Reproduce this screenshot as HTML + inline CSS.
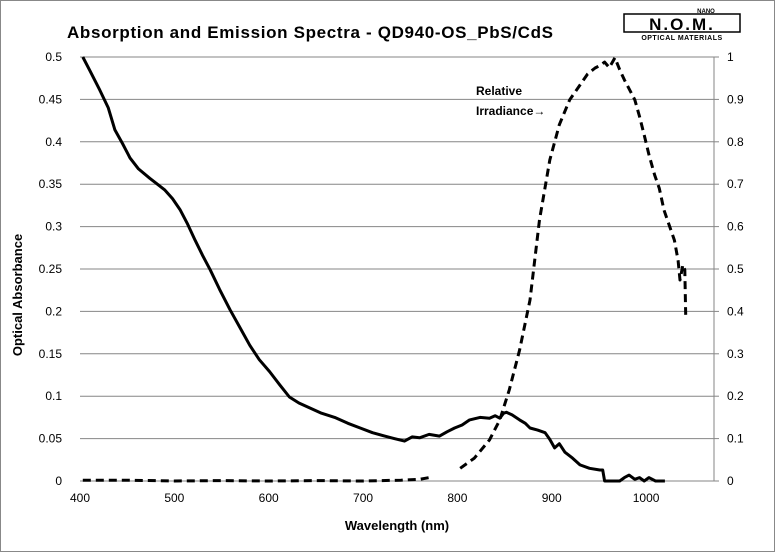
<!DOCTYPE html>
<html><head><meta charset="utf-8"><style>
body{margin:0;background:#fff;}
svg{display:block;font-family:"Liberation Sans",Arial,sans-serif;}
</style></head><body>
<svg width="775" height="552" viewBox="0 0 775 552">
<rect x="0.5" y="0.5" width="774" height="551" fill="#fff" stroke="#888"/>
<text x="67" y="38" font-size="17" font-weight="bold" textLength="486" lengthAdjust="spacing">Absorption and Emission Spectra - QD940-OS_PbS/CdS</text>
<g>
<text x="706" y="13" font-size="6" font-weight="bold" text-anchor="middle">NANO</text>
<rect x="624" y="14" width="116" height="18" fill="none" stroke="#000" stroke-width="1.5"/>
<text x="682" y="30" font-size="17" font-weight="bold" text-anchor="middle" letter-spacing="2">N.O.M.</text>
<text x="682" y="40" font-size="7" font-weight="bold" text-anchor="middle" letter-spacing="0.5">OPTICAL MATERIALS</text>
</g>
<g id="grid"></g>
<g id="axes"></g>
<g id="series"></g>
<text x="22" y="295" font-size="13" font-weight="bold" text-anchor="middle" transform="rotate(-90 22 295)">Optical Absorbance</text>
<text x="397" y="530" font-size="13" font-weight="bold" text-anchor="middle">Wavelength (nm)</text>
<text x="476" y="95" font-size="12" font-weight="bold">Relative</text>
<text x="476" y="115" font-size="12" font-weight="bold">Irradiance→</text>
</svg>
<script>
const xTicks=[400,500,600,700,800,900,1000];
const yLeftTicks=[0,0.05,0.1,0.15,0.2,0.25,0.3,0.35,0.4,0.45,0.5];
const yLeftLabels=["0","0.05","0.1","0.15","0.2","0.25","0.3","0.35","0.4","0.45","0.5"];
const yRightTicks=[0,0.1,0.2,0.3,0.4,0.5,0.6,0.7,0.8,0.9,1];
const yRightLabels=["0","0.1","0.2","0.3","0.4","0.5","0.6","0.7","0.8","0.9","1"];
const absWl=[403,410,421,430,437,445,453,462,474,482,490,498,506,514,522,530,538,548,559,570,580,590,601,612,622,632,644,656,670,684,697,710,723,733,744,752,760,770,781,789,797,805,813,824,834,840,845,849,852,858,866,872,877,885,893,898,903,908,914,922,930,940,951,954,956,962,972,977,982,988,993,998,1003,1010,1020];
const absVal=[0.5,0.485,0.461,0.44,0.414,0.398,0.381,0.368,0.357,0.35,0.343,0.333,0.32,0.303,0.284,0.266,0.249,0.226,0.202,0.18,0.16,0.143,0.129,0.113,0.099,0.092,0.086,0.08,0.075,0.068,0.0625,0.057,0.053,0.05,0.047,0.052,0.051,0.055,0.053,0.058,0.0625,0.066,0.072,0.075,0.074,0.077,0.074,0.08,0.081,0.078,0.072,0.068,0.0625,0.06,0.057,0.049,0.039,0.044,0.034,0.027,0.019,0.015,0.013,0.013,0,0,0,0.004,0.007,0.002,0.004,0,0.004,0,0];
const emWlA=[403,450,500,550,600,650,700,740,760,770];
const emValA=[0.002,0.002,0,0.001,0,0.001,0,0.002,0.004,0.008];
const emWlB=[803,818,834,845,855,866,877,887,898,908,919,930,938,946,951,956,961,967,972,977,982,988,993,998,1003,1009,1014,1019,1025,1030,1034,1036,1039,1041,1042];
const emValB=[0.03,0.054,0.097,0.144,0.215,0.309,0.427,0.616,0.757,0.84,0.899,0.934,0.96,0.974,0.98,0.988,0.975,0.998,0.97,0.946,0.925,0.899,0.86,0.816,0.77,0.722,0.69,0.639,0.6,0.568,0.52,0.474,0.51,0.498,0.392];
const NS='http://www.w3.org/2000/svg';
const X0=80,X1=714,Y0=481,Y1=57,XMIN=400,XMAX=1072;
const xs=v=>X0+(v-XMIN)/(XMAX-XMIN)*(X1-X0);
const yl=v=>Y0-v/0.5*(Y0-Y1);
const yr=v=>Y0-v*(Y0-Y1);
function mk(t,a,p){const e=document.createElementNS(NS,t);for(const k in a)e.setAttribute(k,a[k]);p.appendChild(e);return e;}
const grid=document.getElementById('grid'),axes=document.getElementById('axes'),ser=document.getElementById('series');
yLeftTicks.forEach((v,i)=>{
 if(i>0){const g=mk('line',{x1:X0,x2:X1,y1:yl(v),y2:yl(v),stroke:'#868686','stroke-width':1},grid);
 
 }
 const t=mk('text',{x:X0-18,y:yl(v)+4,'font-size':12,'text-anchor':'end'},axes);t.textContent=yLeftLabels[i];
 
 
});
yRightTicks.forEach((v,i)=>{
 mk('line',{x1:X1,x2:X1+5,y1:yr(v),y2:yr(v),stroke:'#868686'},axes);
 const t=mk('text',{x:X1+13,y:yr(v)+4,'font-size':12},axes);t.textContent=yRightLabels[i];
 
 
});
mk('line',{x1:X1,x2:X1,y1:Y1,y2:Y0,stroke:'#868686'},axes);
mk('line',{x1:X0,x2:X1,y1:Y0,y2:Y0,stroke:'#868686'},axes);
xTicks.forEach(v=>{
 const t=mk('text',{x:xs(v),y:Y0+21,'font-size':12,'text-anchor':'middle'},axes);t.textContent=v;
 
 
});
function path(wl,val,yf,dash,name){
 const d=wl.map((w,i)=>(i?'L':'M')+xs(w).toFixed(1)+' '+yf(val[i]).toFixed(1)).join(' ');
 const p=mk('path',{d:d,fill:'none',stroke:'#000','stroke-width':3,'stroke-linejoin':'round'},ser);
 if(dash)p.setAttribute('stroke-dasharray','8 5');
 
 
}
path(absWl,absVal,yl,false,'absorbance-line');
path(emWlA,emValA,yr,true,'emission-line-low');
path(emWlB,emValB,yr,true,'emission-line-peak');
</script>
</body></html>
